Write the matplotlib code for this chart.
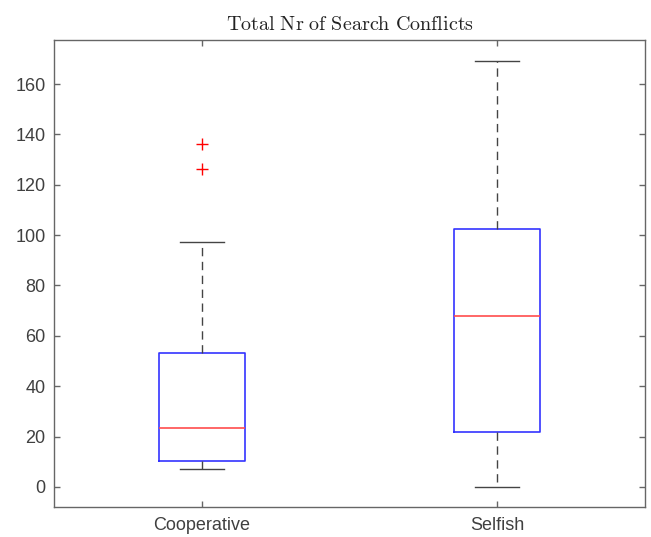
import matplotlib
matplotlib.use('Agg')
import matplotlib.pyplot as plt

# values
groups = ['Cooperative', 'Selfish']
whislo = [7, 0]
q1 = [10.3, 21.8]
med = [23.2, 67.8]
q3 = [53.1, 102.6]
whishi = [97.2, 169]
fliers = [[126.2, 136.2], []]

plt.rcParams['mathtext.fontset'] = 'cm'
plt.rcParams['font.family'] = ['Liberation Sans', 'DejaVu Sans']

stats = []
for i in range(len(groups)):
    stats.append({'label': groups[i], 'whislo': whislo[i], 'q1': q1[i], 'med': med[i],
                  'q3': q3[i], 'whishi': whishi[i], 'fliers': fliers[i]})

fig = plt.figure(figsize=(6.51, 5.37), dpi=100)
ax = fig.add_axes([54 / 651, 30 / 537, 591 / 651, 467 / 537])

ax.bxp(stats, positions=[1, 2], widths=0.29,
       boxprops=dict(color='#3333ff', linewidth=1.2),
       medianprops=dict(color='#ff4d4d', linewidth=1.2),
       whiskerprops=dict(color='#444444', linewidth=1.0, linestyle=(0, (6, 4))),
       capprops=dict(color='#444444', linewidth=1.0),
       flierprops=dict(marker='+', markeredgecolor='red', markersize=8, linestyle='none'),
       capwidths=0.15)

ax.set_xlim(0.5, 2.5)
ax.set_ylim(-8, 177.5)
ax.set_yticks(range(0, 161, 20))
ax.set_xticks([1, 2])
ax.set_xticklabels(groups)
ax.tick_params(direction='in', top=True, right=True, length=4, width=1,
               color='#666666', labelcolor='#404040', labelsize=13)
ax.tick_params(axis='x', pad=7.5)
ax.tick_params(axis='y', pad=6)
for sp in ax.spines.values():
    sp.set_color('#666666')
    sp.set_linewidth(1.0)

ax.set_title(r'$\mathrm{Total\ Nr\ of\ Search\ Conflicts}$', fontsize=14.5, color='#222222', pad=7)

fig.savefig('out.png', dpi=100)
